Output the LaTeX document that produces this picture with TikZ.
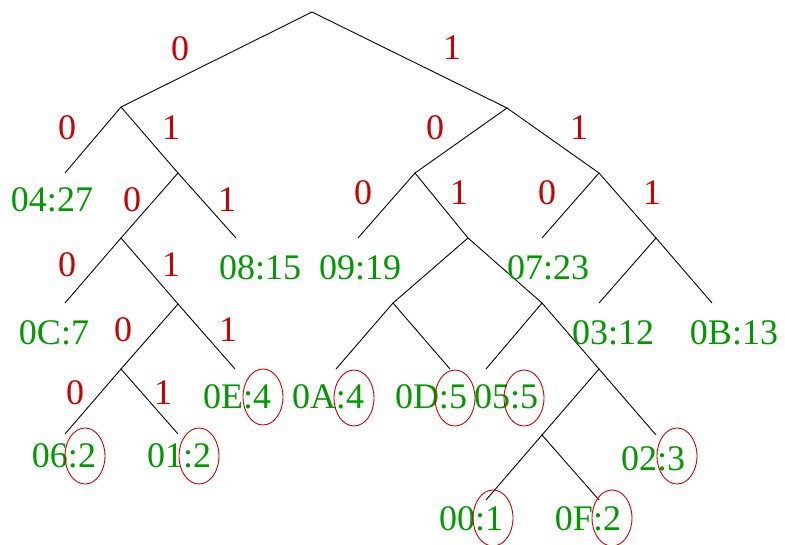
\documentclass[tikz,border=0pt]{standalone}
\usepackage{fontspec}
\setmainfont{Liberation Serif}
\usetikzlibrary{shapes.geometric}
\definecolor{leafgreen}{RGB}{0,153,0}
\definecolor{bitred}{RGB}{204,0,0}
\begin{document}
\begin{tikzpicture}[x=1pt,y=-1pt,
  edge/.style={draw=black,line width=0.9pt},
  leaf/.style={text=leafgreen,inner sep=0pt,font=\fontsize{36}{40}\selectfont},
  bit/.style={text=bitred,inner sep=0pt,font=\fontsize{36}{40}\selectfont},
  ring/.style={ellipse,draw=bitred,line width=0.9pt,minimum width=40pt,minimum height=56pt,inner sep=0pt}]
\useasboundingbox (0,0) rectangle (785,544);
% tree points
\coordinate (r) at (312,12);
\coordinate (a) at (121,107);
\coordinate (b) at (507,108);
\coordinate (a0) at (65,173);
\coordinate (a1) at (178,173);
\coordinate (b0) at (415,173);
\coordinate (b1) at (599,173);
\coordinate (a10) at (121,238);
\coordinate (a11) at (236,238);
\coordinate (b00) at (358,238);
\coordinate (b01) at (468,238);
\coordinate (b10) at (542,238);
\coordinate (b11) at (656,238);
\coordinate (a100) at (65,303);
\coordinate (a101) at (178,304);
\coordinate (b010) at (393,303);
\coordinate (b011) at (542,303);
\coordinate (b110) at (599,303);
\coordinate (b111) at (712,303);
\coordinate (a1010) at (121,369);
\coordinate (a1011) at (235,369);
\coordinate (b0100) at (336,369);
\coordinate (b0101) at (450,369);
\coordinate (b0110) at (486,369);
\coordinate (b0111) at (599,369);
\coordinate (a10100) at (65,434);
\coordinate (a10101) at (178,434);
\coordinate (b01110) at (542,435);
\coordinate (b01111) at (656,435);
\coordinate (b011100) at (486,500);
\coordinate (b011101) at (599,500);
% edges
\draw[edge] (a) -- (r) -- (b);
\draw[edge] (a0) -- (a) -- (a1);
\draw[edge] (b0) -- (b) -- (b1);
\draw[edge] (a10) -- (a1) -- (a11);
\draw[edge] (b00) -- (b0) -- (b01);
\draw[edge] (b10) -- (b1) -- (b11);
\draw[edge] (a100) -- (a10) -- (a101);
\draw[edge] (b010) -- (b01) -- (b011);
\draw[edge] (b110) -- (b11) -- (b111);
\draw[edge] (a1010) -- (a101) -- (a1011);
\draw[edge] (b0100) -- (b010) -- (b0101);
\draw[edge] (b0110) -- (b011) -- (b0111);
\draw[edge] (a10100) -- (a1010) -- (a10101);
\draw[edge] (b01110) -- (b0111) -- (b01111);
\draw[edge] (b011100) -- (b01110) -- (b011101);
% bit labels
\node[bit] (t0) at (180,49) {0};
\node[bit] (t1) at (452,48) {1};
\node[bit] (la0) at (67,128) {0};
\node[bit] (la1) at (171,128) {1};
\node[bit] (lb0) at (435,128) {0};
\node[bit] (lb1) at (579,128) {1};
\node[bit] (la10) at (132,200) {0};
\node[bit] (la11) at (227,200) {1};
\node[bit] (lb00) at (363,193) {0};
\node[bit] (lb01) at (459,193) {1};
\node[bit] (lb10) at (547,193) {0};
\node[bit] (lb11) at (652,193) {1};
\node[bit] (la100) at (67,265) {0};
\node[bit] (la101) at (171,265) {1};
\node[bit] (la1010) at (123,330) {0};
\node[bit] (la1011) at (228,330) {1};
\node[bit] (la10100) at (75,393) {0};
\node[bit] (la10101) at (163,393) {1};
% leaves
\node[leaf] (n04) at (52,200) {04:27};
\node[leaf] (n08) at (260,268) {08:15};
\node[leaf] (n09) at (360,268) {09:19};
\node[leaf] (n07) at (548,268) {07:23};
\node[leaf] (n0C) at (54,333) {0C:7};
\node[leaf] (n03) at (613,333) {03:12};
\node[leaf] (n0B) at (734,333) {0B:13};
\node[leaf] (n0E) at (237,397) {0E:4};
\node[leaf] (n0A) at (328,397) {0A:4};
\node[leaf] (n0D) at (431,397) {0D:5};
\node[leaf] (n05) at (506,397) {05:5};
\node[leaf] (n06) at (64,456) {06:2};
\node[leaf] (n01) at (179,456) {01:2};
\node[leaf] (n02) at (653,459) {02:3};
\node[leaf] (n00) at (471,519) {00:1};
\node[leaf] (n0F) at (588,519) {0F:2};
% red rings
\node[ring] (c06) at (85,456) {};
\node[ring] (c01) at (199,456) {};
\node[ring] (c0E) at (263,397) {};
\node[ring] (c0A) at (354,398) {};
\node[ring] (c0D) at (455,398) {};
\node[ring] (c05) at (524,398) {};
\node[ring] (c02) at (677,456) {};
\node[ring] (c00) at (493,518) {};
\node[ring] (c0F) at (612,518) {};
\end{tikzpicture}
\end{document}
